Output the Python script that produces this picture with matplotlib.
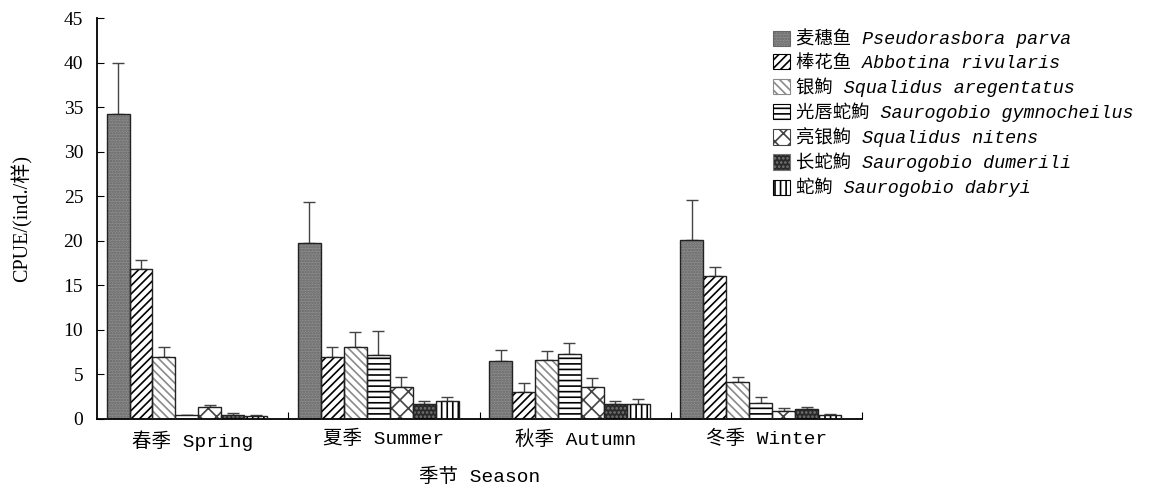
import matplotlib
matplotlib.use("Agg")
import matplotlib.pyplot as plt
from matplotlib.patches import Patch

plt.rcParams['font.family'] = ['Liberation Mono', 'Noto Sans CJK SC']
plt.rcParams['hatch.linewidth'] = 1.2
serif = ['Liberation Serif', 'Noto Sans CJK SC']

# 数据
seasons = ['春季 Spring', '夏季 Summer', '秋季 Autumn', '冬季 Winter']
species_cn = ['麦穗鱼', '棒花鱼', '银鮈', '光唇蛇鮈', '亮银鮈', '长蛇鮈', '蛇鮈']
species_lat = ['Pseudorasbora parva', 'Abbotina rivularis', 'Squalidus aregentatus',
               'Saurogobio gymnocheilus', 'Squalidus nitens', 'Saurogobio dumerili',
               'Saurogobio dabryi']
# значения по сезонам для каждого вида
means = [
    [34.2, 19.7, 6.5, 20.1],
    [16.8, 7.0, 3.0, 16.0],
    [7.0, 8.1, 6.6, 4.1],
    [0.4, 7.2, 7.3, 1.8],
    [1.3, 3.6, 3.6, 0.9],
    [0.5, 1.7, 1.7, 1.1],
    [0.3, 2.0, 1.7, 0.5],
]
errs = [
    [5.8, 4.7, 1.2, 4.5],
    [1.0, 1.1, 1.0, 1.1],
    [1.1, 1.7, 1.0, 0.6],
    [0.1, 2.7, 1.2, 0.7],
    [0.3, 1.1, 1.0, 0.3],
    [0.2, 0.3, 0.3, 0.3],
    [0.1, 0.5, 0.5, 0.1],
]

faces = ['#8c8c8c', 'white', 'white', 'white', 'white', '#2a2a2a', 'white']
hatches = ['......', '////', '\\\\\\\\', '---', 'xx', '....', '|||']
hcolors = ['#666666', 'black', '#8a8a8a', 'black', '#444444', '#777777', 'black']

fig = plt.figure(figsize=(11.51, 4.88), dpi=100)
ax = fig.add_axes([0.0843, 0.1414, 0.6647, 0.8216])

w = 0.12
for i in range(len(species_cn)):
    xs = [g + 0.05 + i * w for g in range(4)]
    ax.bar(xs, means[i], width=w, align='edge', color=faces[i], edgecolor=hcolors[i],
           hatch=hatches[i], linewidth=0, zorder=2)
    ax.bar(xs, means[i], width=w, align='edge', color='none', edgecolor='#222222',
           linewidth=1.0, zorder=3)
    ax.errorbar([x + w / 2 for x in xs], means[i], yerr=[[0] * 4, errs[i]], fmt='none',
                ecolor='#444444', elinewidth=1.0, capsize=4, capthick=1.0, zorder=1)

ax.set_xlim(0, 4)
ax.set_ylim(0, 45)
ax.set_yticks(range(0, 46, 5))
ax.set_yticklabels([str(v) for v in range(0, 46, 5)], family=serif, fontsize=14)
ax.set_xticks([1, 2, 3, 4])
ax.set_xticklabels([])
ax.set_xticks([0.5, 1.5, 2.5, 3.5], minor=True)
ax.set_xticklabels(seasons, minor=True, fontsize=14)
ax.tick_params(axis='x', which='minor', length=0, pad=8)
ax.tick_params(axis='x', which='major', direction='in', length=5)
ax.tick_params(axis='y', direction='in', length=5, pad=10)
for s in ['top', 'right']:
    ax.spines[s].set_visible(False)
ax.spines['left'].set_linewidth(1.3)
ax.spines['bottom'].set_linewidth(1.3)
ax.set_ylabel('CPUE/(ind./样)', fontsize=14.5, family=serif, labelpad=22)
ax.set_xlabel('季节 Season', fontsize=14, labelpad=12)

handles = [Patch(facecolor=faces[i], edgecolor=hcolors[i], hatch=hatches[i], linewidth=0.8)
           for i in range(len(species_cn))]
labels = [species_cn[i] + ' ' + species_lat[i] for i in range(len(species_cn))]
leg = fig.legend(handles, labels, loc='upper left', bbox_to_anchor=(0.664, 0.96),
                 frameon=False, borderpad=0, handlelength=0.9, handleheight=0.9,
                 handletextpad=0.35, labelspacing=0.3,
                 prop={'size': 13.2, 'style': 'italic'})

fig.savefig('out.png', dpi=100)
